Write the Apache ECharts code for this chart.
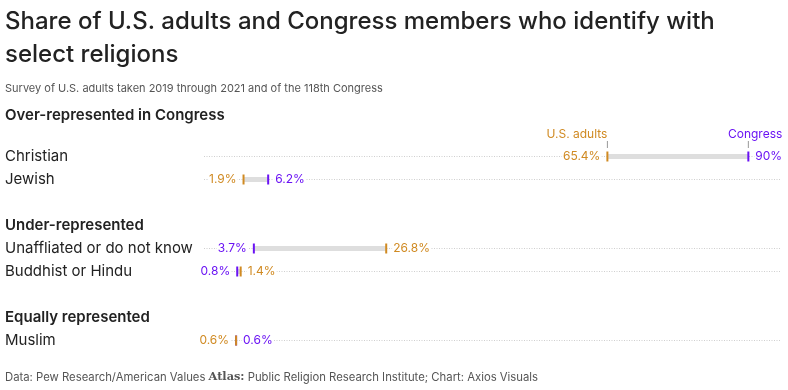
<!DOCTYPE html>
<html><head><meta charset="utf-8">
<script src="https://cdn.jsdelivr.net/npm/echarts@6/dist/echarts.min.js"></script>
<style>html,body{margin:0;padding:0;background:#fff}#c{width:788px;height:390px}</style>
</head><body><div id="c"></div>
<script>
const titleText = 'Share of U.S. adults and Congress members who identify with\nselect religions';
const subtitleText = 'Survey of U.S. adults taken 2019 through 2021 and of the 118th Congress';
const firstHeader = 'Over-represented in Congress';
const categories = ['Christian', 'Jewish', ' ', 'Under-represented', 'Unaffliated or do not know', 'Buddhist or Hindu', '  ', 'Equally represented', 'Muslim'];
const headers = ['Under-represented', 'Equally represented'];
const usAdults = [65.4, 1.9, null, null, 26.8, 1.4, null, null, 0.6];
const congress = [90, 6.2, null, null, 3.7, 0.8, null, null, 0.6];
const seriesNames = ['U.S. adults', 'Congress'];

const ORANGE = '#d08a22', PURPLE = '#6a12f4';
const FONT = 'Inter, "Noto Sans", sans-serif';

const data = [];
categories.forEach((c, i) => {
  if (usAdults[i] != null && congress[i] != null) data.push([i, usAdults[i], congress[i]]);
});

function fmt(v) { return v + '%'; }

function renderItem(params, api) {
  const idx = api.value(0);
  const us = api.value(1), cg = api.value(2);
  const yc = api.coord([0, idx])[1];
  const xu = api.coord([us, idx])[0];
  const xg = api.coord([cg, idx])[0];
  const cs = params.coordSys;
  const children = [];
  children.push({type: 'line', shape: {x1: cs.x, y1: yc, x2: cs.x + cs.width + 3, y2: yc},
    style: {stroke: '#cfcfcf', lineWidth: 1, lineDash: [1, 1.5]}});
  const lo = Math.min(xu, xg), hi = Math.max(xu, xg);
  children.push({type: 'rect', shape: {x: lo, y: yc - 2.5, width: hi - lo, height: 5}, style: {fill: '#dedede'}});
  children.push({type: 'rect', shape: {x: xg - 1, y: yc - 5, width: 2, height: 10}, style: {fill: PURPLE}});
  children.push({type: 'rect', shape: {x: xu - 1, y: yc - 5, width: 2, height: 10}, style: {fill: ORANGE}});
  const usLeft = us <= cg;
  const labelStyle = (txt, color, x, align) => ({type: 'text', x: x, y: yc,
    style: {text: txt, fill: color, font: '12px ' + FONT, align: align, verticalAlign: 'middle',
      backgroundColor: '#fff', padding: [1, 1]}});
  children.push(labelStyle(fmt(us), ORANGE, usLeft ? xu - 6 : xu + 6, usLeft ? 'right' : 'left'));
  children.push(labelStyle(fmt(cg), PURPLE, usLeft ? xg + 6 : xg - 6, usLeft ? 'left' : 'right'));
  if (params.dataIndex === 0) {
    children.push({type: 'line', shape: {x1: xu, y1: yc - 15.5, x2: xu, y2: yc - 8.5}, style: {stroke: '#999', lineWidth: 1}});
    children.push({type: 'line', shape: {x1: xg, y1: yc - 15.5, x2: xg, y2: yc - 8.5}, style: {stroke: '#999', lineWidth: 1}});
    children.push({type: 'text', x: xu, y: yc - 22.5, style: {text: seriesNames[0], fill: ORANGE, font: '12px ' + FONT, align: 'right', verticalAlign: 'middle'}});
    children.push({type: 'text', x: Math.min(xg + 34, 783), y: yc - 22.5, style: {text: seriesNames[1], fill: PURPLE, font: '12px ' + FONT, align: 'right', verticalAlign: 'middle'}});
  }
  return {type: 'group', children: children};
}

const chart = echarts.init(document.getElementById('c'), null, {renderer: 'canvas'});
chart.setOption({
  animation: false,
  backgroundColor: '#fff',
  title: [
    {text: titleText, left: 5, top: 5, padding: 0, textStyle: {fontFamily: FONT, fontSize: 24, fontWeight: 500, color: '#222', lineHeight: 33}},
    {text: subtitleText, left: 5, top: 83, padding: 0, textStyle: {fontFamily: FONT, fontSize: 11, fontWeight: 400, color: '#555'}},
    {text: firstHeader, left: 5, top: 108, padding: 0, textStyle: {fontFamily: FONT, fontSize: 15, fontWeight: 600, color: '#222'}},
    {text: '{a|Data: Pew Research/American Values }{b|Atlas:}{a| Public Religion Research Institute; Chart: Axios Visuals}', left: 5, top: 372, padding: 0,
      textStyle: {fontWeight: 'normal', rich: {a: {fontFamily: FONT, fontSize: 11.3, fontWeight: 'normal', color: '#555'}, b: {fontFamily: '"DejaVu Serif", serif', fontWeight: 'bold', fontSize: 11.3, color: '#555'}}}}
  ],
  grid: {left: 204, right: 11, top: 145, height: 207},
  xAxis: {type: 'value', min: -5, max: 95, show: false},
  yAxis: {type: 'category', data: categories, inverse: true,
    axisLine: {show: false}, axisTick: {show: false}, splitLine: {show: false},
    axisLabel: {align: 'left', margin: 199, color: '#222', fontFamily: FONT, fontSize: 15,
      formatter: v => headers.includes(v) ? '{h|' + v + '}' : v,
      rich: {h: {fontFamily: FONT, fontSize: 15, fontWeight: 600, color: '#222'}}}},
  series: [{type: 'custom', renderItem: renderItem, data: data, encode: {x: [1, 2], y: 0}, clip: false}]
});
</script></body></html>
